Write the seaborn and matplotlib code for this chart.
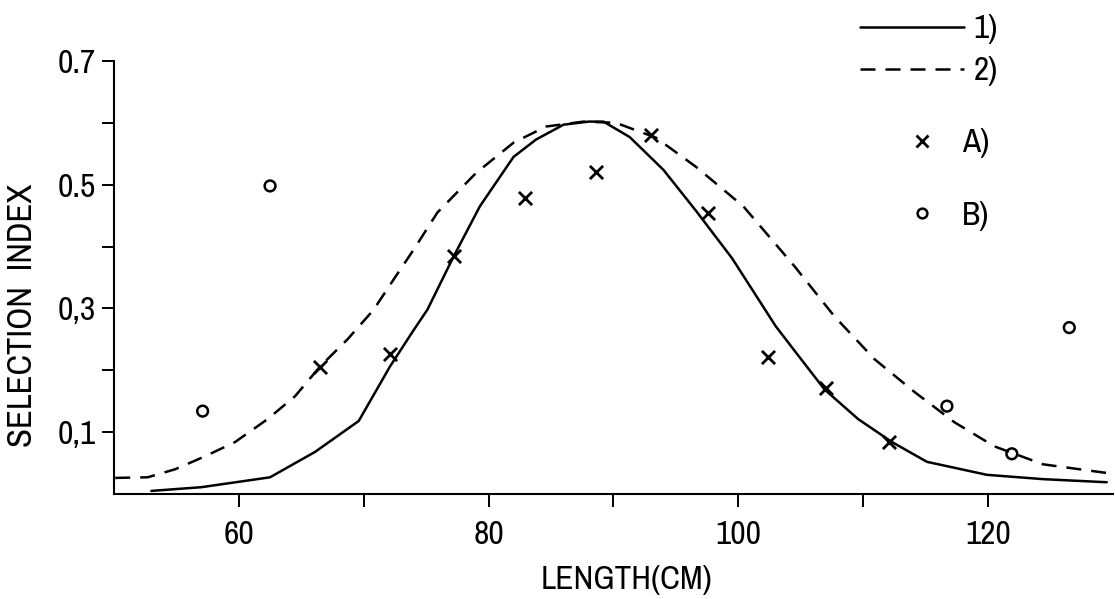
import matplotlib
matplotlib.use("Agg")
import matplotlib.pyplot as plt
from matplotlib import font_manager
from matplotlib.lines import Line2D
import pandas as pd
import seaborn as sns

# curve 1) solid
len_1 = [53.0, 57.0, 62.5, 66.1, 69.6, 72.1, 74.0, 75.1, 77.2, 79.3, 82.0, 83.8,
         86.0, 88.0, 89.2, 91.3, 94.0, 96.6, 99.5, 103.0, 104.6, 106.9, 109.6,
         112.3, 115.1, 119.9, 124.4, 129.5]
sel_1 = [0.005, 0.011, 0.027, 0.068, 0.118, 0.206, 0.265, 0.298, 0.384, 0.465,
         0.545, 0.573, 0.597, 0.602, 0.602, 0.577, 0.524, 0.458, 0.381, 0.271,
         0.229, 0.169, 0.121, 0.084, 0.052, 0.031, 0.024, 0.019]

# curve 2) dashed
len_2 = [50.1, 52.7, 54.9, 57.3, 59.7, 62.3, 64.5, 66.5, 68.7, 70.8, 72.5, 74.0,
         75.9, 79.0, 82.0, 84.6, 87.6, 90.2, 93.4, 96.6, 100.4, 104.5, 107.7,
         110.9, 114.1, 117.3, 120.5, 124.4, 129.5]
sel_2 = [0.026, 0.027, 0.040, 0.061, 0.084, 0.121, 0.158, 0.206, 0.250, 0.298,
         0.350, 0.395, 0.455, 0.519, 0.568, 0.594, 0.602, 0.600, 0.576, 0.529,
         0.465, 0.368, 0.287, 0.218, 0.165, 0.116, 0.077, 0.048, 0.034]

# observed points A) and B)
len_a = [66.5, 72.1, 77.2, 82.9, 88.6, 93.0, 97.6, 102.4, 107.0, 112.1]
sel_a = [0.206, 0.226, 0.384, 0.479, 0.521, 0.581, 0.455, 0.221, 0.171, 0.084]
len_b = [57.1, 62.5, 116.7, 121.9, 126.5]
sel_b = [0.134, 0.498, 0.142, 0.065, 0.269]

x_ticks = [60, 80, 100, 120]
x_minor = [70, 90, 110]
y_ticks = [0.1, 0.3, 0.5, 0.7]
y_tick_labels = ["0,1", "0,3", "0.5", "0.7"]
y_minor = [0.2, 0.4, 0.6]

sns.set_style("ticks")

# look for a narrow face, the original lettering is condensed
narrow = None
for f in font_manager.fontManager.ttflist:
    n = f.name.lower()
    if "narrow" in n or "condensed" in n:
        narrow = f.name
        break
if narrow is None:
    for f in font_manager.fontManager.ttflist:
        if f.stretch in ("condensed", "semi-condensed", "extra-condensed", 300, 400) \
                and f.name in ("Roboto", "Noto Sans", "Open Sans", "DejaVu Sans"):
            narrow = f.name
            break

if narrow is not None:
    plt.rcParams["font.family"] = [narrow, "DejaVu Sans"]
    plt.rcParams["font.stretch"] = "condensed"
    fs = 24
else:
    plt.rcParams["font.family"] = ["Liberation Sans", "DejaVu Sans"]
    fs = 20
plt.rcParams["text.color"] = "black"
plt.rcParams["axes.labelcolor"] = "black"
plt.rcParams["xtick.color"] = "black"
plt.rcParams["ytick.color"] = "black"
em = fs * 100 / 72.0  # font size in pixels

fig = plt.figure(figsize=(11.15, 5.99), dpi=100)
ax = fig.add_axes([0.1022, 0.1753, 0.896, 0.7229])

df1 = pd.DataFrame({"x": len_1, "y": sel_1})
df2 = pd.DataFrame({"x": len_2, "y": sel_2})
sns.lineplot(data=df1, x="x", y="y", ax=ax, color="black", lw=1.8,
             sort=False, estimator=None)
sns.lineplot(data=df2, x="x", y="y", ax=ax, color="black", lw=1.8,
             sort=False, estimator=None)
ax.lines[-1].set_dashes((6, 4))

sns.scatterplot(x=len_a, y=sel_a, ax=ax, marker="x", s=90, color="black",
                linewidth=2.0, zorder=3)
sns.scatterplot(x=len_b, y=sel_b, ax=ax, marker="o", s=60, facecolor="none",
                edgecolor="black", linewidth=1.8, zorder=3)

ax.set_xlim(50, 130)
ax.set_ylim(0, 0.7)
ax.set_xticks(x_ticks)
ax.set_xticks(x_minor, minor=True)
ax.set_yticks(y_ticks)
ax.set_yticklabels(y_tick_labels)
ax.set_yticks(y_minor, minor=True)
ax.tick_params(which="both", direction="out", length=9, width=1.4, color="black")
ax.tick_params(axis="x", which="major", labelsize=fs, pad=9.5, labelcolor="black")
ax.tick_params(axis="y", which="major", labelsize=fs, pad=4, labelcolor="black")
sns.despine(ax=ax)
for s in ["left", "bottom"]:
    ax.spines[s].set_linewidth(1.5)
    ax.spines[s].set_color("black")

ax.set_xlabel("LENGTH(CM)", fontsize=fs, color="black")
ax.set_ylabel("SELECTION  INDEX", fontsize=fs + 1, color="black")
ax.xaxis.set_label_coords(0.513, -0.164)
ax.yaxis.set_label_coords(-0.076, 0.413)

# legend, split in two blocks as in the original
lines_h = [Line2D([], [], color="black", lw=1.8),
           Line2D([], [], color="black", lw=1.8, dashes=(6, 4))]
leg1 = fig.legend(lines_h, ["1)", "2)"], loc="upper left",
                  bbox_to_anchor=(0.771, 0.976), frameon=False, fontsize=fs,
                  handlelength=104 / em, handletextpad=10 / em,
                  labelspacing=0.36, borderpad=0, borderaxespad=0,
                  labelcolor="black")
mark_h = [Line2D([], [], color="black", ls="", marker="x", ms=9, mew=2.0),
          Line2D([], [], color="black", ls="", marker="o", ms=7, mew=1.8,
                 markerfacecolor="none")]
leg2 = fig.legend(mark_h, ["A)", "B)"], loc="upper left",
                  bbox_to_anchor=(0.814, 0.786), frameon=False, fontsize=fs,
                  handlelength=29 / em, handletextpad=25 / em,
                  labelspacing=1.28, borderpad=0, borderaxespad=0,
                  labelcolor="black")

fig.savefig("out.png", dpi=100)
